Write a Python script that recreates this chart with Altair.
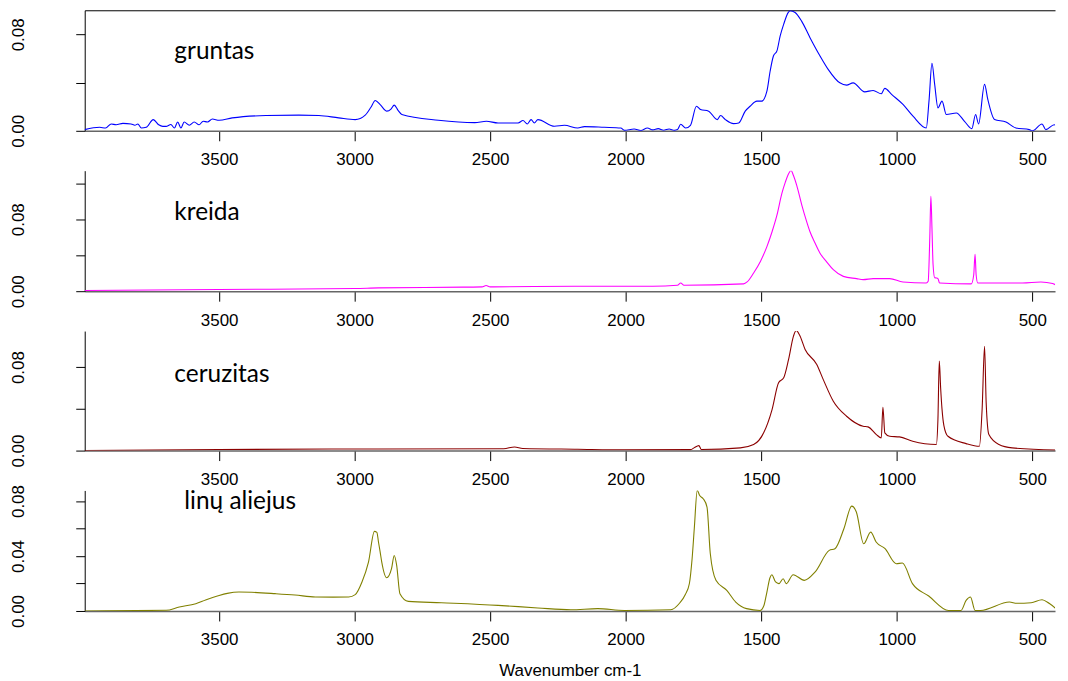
import altair as alt
import pandas as pd

# ---------------- data ----------------
gruntas_wn = [3996, 3941, 3919, 3898, 3880, 3855, 3825, 3811, 3800, 3787, 3769, 3743, 3723, 3708,
              3696, 3678, 3665, 3653, 3641, 3629, 3610, 3592, 3574, 3559, 3543, 3525, 3500, 3452,
              3327, 3206, 3132, 3059, 2998, 2961, 2940, 2924, 2905, 2881, 2866, 2854, 2840, 2826,
              2691, 2557, 2514, 2471,
              2397, 2379, 2363, 2349, 2337, 2324, 2263, 2226, 2177, 2152, 2079, 2018, 2005, 1969,
              1944, 1920, 1900, 1880, 1860, 1840, 1820, 1809, 1797, 1779, 1761, 1739, 1724, 1694,
              1662, 1650, 1632, 1602, 1583, 1559, 1541, 1516, 1498, 1479, 1467, 1455, 1442, 1430,
              1417, 1400, 1393, 1375, 1351, 1320, 1283, 1253, 1210, 1185, 1161, 1118, 1087, 1057,
              1044, 1019, 977, 940, 891, 881, 870, 860, 848, 833, 817, 780, 750, 723, 709, 698,
              676, 664, 639, 597, 560, 511, 499, 464, 450, 419, 401]
gruntas_ab = [0.0010, 0.0029, 0.0023, 0.0057, 0.0050, 0.0062, 0.0057, 0.0046, 0.0057, 0.0023, 0.0029,
              0.0093, 0.0050, 0.0037, 0.0037, 0.0052, 0.0023, 0.0073, 0.0023, 0.0073, 0.0046, 0.0073,
              0.0050, 0.0079, 0.0073, 0.0098, 0.0087, 0.0107, 0.0127, 0.0130, 0.0127, 0.0107, 0.0093,
              0.0130, 0.0195, 0.0252, 0.0215, 0.0163, 0.0180, 0.0213, 0.0170, 0.0135,
              0.0088, 0.0068, 0.0079, 0.0065,
              0.0065, 0.0085, 0.0057, 0.0093, 0.0065, 0.0093, 0.0038, 0.0046, 0.0023, 0.0035, 0.0029,
              0.0023, 0.0004, 0.0015, 0.0002, 0.0023, 0.0008, 0.0018, 0.0005, 0.0015, 0.0004, 0.0010,
              0.0055, 0.0023, 0.0046, 0.0204, 0.0177, 0.0163, 0.0093, 0.0127, 0.0093, 0.0060, 0.0065,
              0.0163, 0.0204, 0.0246, 0.0246, 0.0329, 0.0496, 0.0621, 0.0663, 0.0787, 0.0885, 0.0982,
              0.0996, 0.0982, 0.0910, 0.0773, 0.0621, 0.0510, 0.0398, 0.0379, 0.0398, 0.0323, 0.0335,
              0.0307, 0.0352, 0.0302, 0.0219, 0.0121, 0.0023, 0.0246, 0.0560, 0.0385, 0.0190, 0.0246,
              0.0135, 0.0148, 0.0079, 0.0018, 0.0135, 0.0057, 0.0385, 0.0260, 0.0093, 0.0073, 0.0023,
              0.0010, 0.0000, 0.0057, 0.0010, 0.0050, 0.0010]

kreida_wn = [3996, 3500, 3000, 2912, 2600, 2530, 2515, 2500, 2177, 1900, 1809, 1797, 1785, 1565,
             1552, 1528, 1503, 1479, 1460, 1442, 1424, 1411, 1399, 1390, 1381, 1369, 1350, 1334,
             1320, 1301, 1283, 1258, 1234, 1197, 1148, 1124, 1087, 1026, 977, 891, 884, 878, 874,
             870, 866, 860, 854, 848, 842, 725, 716, 711, 707, 701, 536, 468, 425, 388]
kreida_ab = [0.0008, 0.0019, 0.0030, 0.0037, 0.0045, 0.0048, 0.0063, 0.0048, 0.0055, 0.0055, 0.0066,
             0.0092, 0.0066, 0.0081, 0.0103, 0.0203, 0.0331, 0.0496, 0.0661, 0.0845, 0.1084, 0.1212,
             0.1305, 0.1341, 0.1286, 0.1176, 0.0955, 0.0790, 0.0661, 0.0533, 0.0423, 0.0324, 0.0239,
             0.0165, 0.0140, 0.0129, 0.0140, 0.0140, 0.0103, 0.0092, 0.0110, 0.0600, 0.1056, 0.0700,
             0.0300, 0.0150, 0.0147, 0.0140, 0.0092, 0.0081, 0.0180, 0.0410, 0.0180, 0.0092, 0.0092,
             0.0103, 0.0085, 0.0010]

ceruzitas_wn = [3996, 3500, 3000, 2912, 2450, 2410, 2380, 2177, 2005, 1760, 1748, 1730, 1721, 1577,
                1528, 1491, 1460, 1436, 1417, 1399, 1381, 1371, 1359, 1338, 1295, 1271, 1234, 1185,
                1124, 1106, 1075, 1057, 1051, 1044, 1026, 990, 941, 854, 848, 843, 838, 833, 826, 811,
                744, 695, 685, 676, 670, 660, 623, 574, 390]
ceruzitas_ab = [0.0000, 0.0010, 0.0016, 0.0016, 0.0018, 0.0035, 0.0020, 0.0013, 0.0008, 0.0009, 0.0026,
                0.0048, 0.0010, 0.0026, 0.0058, 0.0170, 0.0393, 0.0650, 0.0697, 0.0873, 0.1096, 0.1150,
                0.1110, 0.0969, 0.0825, 0.0680, 0.0473, 0.0329, 0.0233, 0.0227, 0.0153, 0.0122, 0.0415,
                0.0170, 0.0137, 0.0131, 0.0089, 0.0058, 0.0300, 0.0857, 0.0600, 0.0400, 0.0240, 0.0137,
                0.0067, 0.0041, 0.0393, 0.1000, 0.0457, 0.0153, 0.0058, 0.0026, 0.0003]

linu_wn = [3996, 3696, 3647, 3586, 3550, 3500, 3470, 3427, 3380, 3292, 3220, 3145, 3080, 3022, 2998,
           2973, 2949, 2927, 2918, 2912, 2906, 2900, 2882, 2864, 2854, 2845, 2833, 2802, 2680, 2471,
           2324, 2202, 2103, 2005, 1834, 1800, 1780, 1765, 1755, 1747, 1736, 1727, 1714, 1700, 1688,
           1667, 1627, 1594, 1554, 1504, 1490, 1479, 1468, 1461, 1447, 1435, 1419, 1408, 1382, 1341,
           1301, 1249, 1228, 1195, 1166, 1149, 1122, 1096, 1076, 1043, 1002, 979, 942, 882, 809, 763,
           744, 728, 711, 691, 584, 557, 504, 464, 438, 405]
linu_ab = [0.0000, 0.0005, 0.0029, 0.0053, 0.0080, 0.0113, 0.0128, 0.0138, 0.0136, 0.0126, 0.0116,
           0.0102, 0.0101, 0.0102, 0.0119, 0.0211, 0.0356, 0.0579, 0.0572, 0.0500, 0.0430, 0.0356,
           0.0242, 0.0308, 0.0404, 0.0332, 0.0126, 0.0070, 0.0060, 0.0041, 0.0022, 0.0009, 0.0017,
           0.0004, 0.0009, 0.0060, 0.0120, 0.0200, 0.0380, 0.0598, 0.0877, 0.0840, 0.0817, 0.0756,
           0.0420, 0.0223, 0.0150, 0.0065, 0.0017, 0.0004, 0.0040, 0.0138, 0.0240, 0.0264, 0.0211,
           0.0199, 0.0235, 0.0199, 0.0264, 0.0223, 0.0284, 0.0441, 0.0453, 0.0598, 0.0763, 0.0720,
           0.0489, 0.0574, 0.0502, 0.0453, 0.0344, 0.0349, 0.0199, 0.0109, 0.0004, 0.0004, 0.0077,
           0.0102, 0.0004, 0.0004, 0.0065, 0.0056, 0.0060, 0.0082, 0.0056, 0.0004]

x_ticks = [3500, 3000, 2500, 2000, 1500, 1000, 500]
x_title = "Wavenumber cm-1"

# ---------------- chart ----------------
AXFONT = "Liberation Sans"
W = 974
X_DOMAIN = [416, 3996]


def panel(name, wn, ab, color, ymax, yvals, yhide, height, title=None, top_border=False,
          tx=90, ty=49):
    df = pd.DataFrame({"wn": wn, "ab": ab})
    xscale = alt.Scale(domain=X_DOMAIN, reverse=True, nice=False, zero=False)
    yscale = alt.Scale(domain=[0, ymax], nice=False, zero=True)
    hide_expr = " || ".join(f"abs(datum.value - {v}) < 1e-9" for v in yhide) if yhide else "false"
    xaxis = alt.Axis(values=x_ticks, format="d", tickSize=10, tickColor="black",
                     domainColor="#666666", domainWidth=1.5, labelFont=AXFONT,
                     labelFontSize=17, labelColor="black", labelPadding=11, grid=False,
                     labelFlush=False, title=title, titleFont=AXFONT, titleFontSize=17,
                     titleFontWeight="normal", titleColor="black", titlePadding=15)
    yaxis = alt.Axis(values=yvals, tickSize=9, tickColor="black", domainColor="black",
                     labelFont=AXFONT, labelFontSize=17, labelColor="black", labelAngle=270,
                     labelAlign="center", labelBaseline="bottom", labelPadding=48,
                     labelOverlap=False, grid=False, title=None,
                     labelExpr=f"({hide_expr}) ? '' : format(datum.value, '.2f')")
    line = alt.Chart(df).mark_line(color=color, strokeWidth=1.1, clip=True,
                                   interpolate="monotone").encode(
        x=alt.X("wn:Q", scale=xscale, axis=xaxis),
        y=alt.Y("ab:Q", scale=yscale, axis=yaxis),
    )
    lab = alt.Chart(pd.DataFrame({"label": [name]})).mark_text(
        align="left", baseline="alphabetic", font="Lato", fontSize=24.5, color="black"
    ).encode(x=alt.value(tx), y=alt.value(ty), text="label:N")
    if top_border:
        top = alt.Chart(df).mark_line(strokeOpacity=0).encode(
            x=alt.X("wn:Q", scale=xscale,
                    axis=alt.Axis(orient="top", labels=False, ticks=False, domainColor="black",
                                  domainWidth=1, grid=False, title=None)),
            y=alt.Y("ab:Q", scale=yscale, axis=None),
        )
        ch = alt.layer(line, top, lab).resolve_axis(x="independent", y="independent")
    else:
        ch = alt.layer(line, lab)
    return ch.properties(width=W, height=height)


p1 = panel("gruntas", gruntas_wn, gruntas_ab, "#0000FF", 0.1, [0, 0.04, 0.08], [0.04], 121,
           top_border=True, ty=49)
p2 = panel("kreida", kreida_wn, kreida_ab, "#FF00FF", 0.134, [0, 0.04, 0.08, 0.12], [0.04, 0.12],
           121, ty=50)
p3 = panel("ceruzitas", ceruzitas_wn, ceruzitas_ab, "#8B0000", 0.1145, [0, 0.04, 0.08], [0.04],
           120, ty=51)
p4 = panel("linų aliejus", linu_wn, linu_ab, "#808000", 0.0877, [0, 0.02, 0.04, 0.06, 0.08],
           [0.02, 0.06], 121, title=x_title, tx=100, ty=19)

chart = alt.vconcat(p1, p2, p3, p4, spacing=40, bounds="flush").properties(
    padding={"left": 2, "top": 1, "right": 0, "bottom": 0}, background="white"
).configure_view(stroke="transparent", strokeWidth=0)

chart.save("out.html", embed_options={"renderer": "svg", "actions": False})
